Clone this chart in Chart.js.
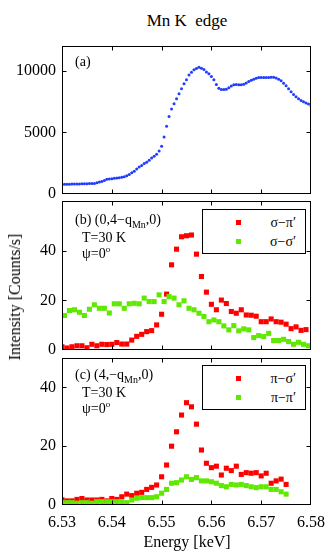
<!DOCTYPE html>
<html>
<head>
<meta charset="utf-8">
<script src="https://cdn.jsdelivr.net/npm/chart.js@4.4.0/dist/chart.umd.min.js"></script>
<style>
  body { margin: 0; width: 332px; height: 556px; position: relative; overflow: hidden; background: #fff;
         font-family: "Liberation Serif", "Times New Roman", serif; color: #000; }
  canvas { position: absolute; left: 0; }
  .t { position: absolute; white-space: nowrap; line-height: 1; font-size: 14px; transform: translateY(-50%); }
  .c { transform: translate(-50%, -50%); }
  sub { font-size: 10px; vertical-align: -4px; line-height: 0; }
  .leg { position: absolute; border: 1px solid #000; background: #fff; box-sizing: border-box; }
  .mk { position: absolute; width: 5px; height: 5px; }
</style>
</head>
<body>
<canvas id="pa" width="332" height="168" style="top:36px"></canvas>
<canvas id="pb" width="332" height="164" style="top:196px"></canvas>
<canvas id="pc" width="332" height="206" style="top:350px"></canvas>

<div class="t c" style="left:187px;top:20px;font-size:17px">Mn K&nbsp;&nbsp;edge</div>
<div class="t c" style="left:187px;top:542px;font-size:16px">Energy [keV]</div>
<div class="t" style="left:15px;top:297px;font-size:16px;transform:translate(-50%,-50%) rotate(-90deg)">Intensity [Counts/s]</div>

<div class="t" style="left:75px;top:62px">(a)</div>

<div class="t" style="left:75px;top:220px">(b) (0,4−q<sub>Mn</sub>,0)</div>
<div class="t" style="left:82px;top:238px">T=30 K</div>
<div class="t" style="left:82px;top:253px">ψ=0<sup style="font-size:9px">o</sup></div>

<div class="t" style="left:75px;top:375px">(c) (4,−q<sub>Mn</sub>,0)</div>
<div class="t" style="left:82px;top:393px">T=30 K</div>
<div class="t" style="left:82px;top:408px">ψ=0<sup style="font-size:9px">o</sup></div>

<div class="leg" style="left:202px;top:209px;width:104px;height:45px">
  <div class="mk" style="left:33px;top:10px;background:#ff0000"></div>
  <div class="t" style="right:9px;top:13px">σ−π′</div>
  <div class="mk" style="left:33px;top:29px;background:#5fe800"></div>
  <div class="t" style="right:9px;top:32px">σ−σ′</div>
</div>
<div class="leg" style="left:202px;top:365px;width:104px;height:45px">
  <div class="mk" style="left:33px;top:10px;background:#ff0000"></div>
  <div class="t" style="right:9px;top:13px">π−σ′</div>
  <div class="mk" style="left:33px;top:29px;background:#5fe800"></div>
  <div class="t" style="right:9px;top:32px">π−π′</div>
</div>

<script>
// x axis (shared)
var xTicks = [6.53, 6.54, 6.55, 6.56, 6.57, 6.58];

// (a) fluorescence, Mn K edge
var energyA = [
  6.5300, 6.5305, 6.5310, 6.5315, 6.5320, 6.5325, 6.5330, 6.5335, 6.5340, 6.5345,
  6.5350, 6.5355, 6.5360, 6.5365, 6.5370, 6.5375, 6.5380, 6.5385, 6.5390, 6.5395,
  6.5400, 6.5405, 6.5410, 6.5415, 6.5420, 6.5425, 6.5430, 6.5435, 6.5440, 6.5445,
  6.5450, 6.5455, 6.5460, 6.5465, 6.5470, 6.5475, 6.5480, 6.5485, 6.5490, 6.5495,
  6.5500, 6.5505, 6.5510, 6.5515, 6.5520, 6.5525, 6.5530, 6.5535, 6.5540, 6.5545,
  6.5550, 6.5555, 6.5560, 6.5565, 6.5570, 6.5575, 6.5580, 6.5585, 6.5590, 6.5595,
  6.5600, 6.5605, 6.5610, 6.5615, 6.5620, 6.5625, 6.5630, 6.5635, 6.5640, 6.5645,
  6.5650, 6.5655, 6.5660, 6.5665, 6.5670, 6.5675, 6.5680, 6.5685, 6.5690, 6.5695,
  6.5700, 6.5705, 6.5710, 6.5715, 6.5720, 6.5725, 6.5730, 6.5735, 6.5740, 6.5745,
  6.5750, 6.5755, 6.5760, 6.5765, 6.5770, 6.5775, 6.5780, 6.5785, 6.5790, 6.5795,
  6.5800
];
var fluoA = [
  780, 790, 800, 800, 810, 810, 820, 820, 830, 830,
  840, 850, 860, 860, 910, 970, 1020, 1100, 1190, 1210,
  1240, 1270, 1290, 1320, 1350, 1400, 1480, 1590, 1720, 1850,
  2020, 2180, 2310, 2480, 2580, 2740, 2910, 3070, 3230, 3480,
  3880, 4620, 5490, 6290, 6890, 7310, 7720, 8120, 8530, 8930,
  9260, 9640, 9870, 10070, 10170, 10280, 10200, 10090, 9900, 9740,
  9520, 9260, 8880, 8580, 8470, 8470, 8500, 8610, 8750, 8850,
  8880, 8850, 8850, 8900, 9010, 9120, 9230, 9310, 9390, 9440,
  9440, 9440, 9440, 9440, 9470, 9470, 9410, 9310, 9180, 8980,
  8770, 8530, 8290, 8070, 7890, 7720, 7590, 7480, 7380, 7290,
  7160
];
var yTicksA = [0, 5000, 10000];

// (b) (0,4-qMn,0)
var energyB = [
  6.530, 6.531, 6.532, 6.533, 6.534, 6.535, 6.536, 6.537, 6.538, 6.539,
  6.540, 6.541, 6.542, 6.543, 6.544, 6.545, 6.546, 6.547, 6.548, 6.549,
  6.550, 6.551, 6.552, 6.553, 6.554, 6.555, 6.556, 6.557, 6.558, 6.559,
  6.560, 6.561, 6.562, 6.563, 6.564, 6.565, 6.566, 6.567, 6.568, 6.569,
  6.570, 6.571, 6.572, 6.573, 6.574, 6.575, 6.576, 6.577, 6.578, 6.579
];
var sigmaPi = [
  1.3, 0.8, 1.3, 1.7, 1.7, 0.9, 2.3, 1.7, 2.3, 2.2,
  2.3, 3.0, 2.4, 2.4, 4.0, 5.5, 6.3, 7.4, 7.8, 10.1,
  14.4, 22.5, 34.3, 40.6, 45.6, 46.0, 46.3, 38.6, 29.6, 23.3,
  18.4, 16.2, 20.1, 18.7, 15.5, 14.8, 16.2, 14.1, 14.0, 13.6,
  11.4, 11.4, 12.5, 11.4, 11.2, 10.4, 8.6, 9.3, 7.9, 8.2
];
var energyB2 = [
  6.5305, 6.5315, 6.5325, 6.5335, 6.5345, 6.5355, 6.5365, 6.5375, 6.5385, 6.5395,
  6.5405, 6.5415, 6.5425, 6.5435, 6.5445, 6.5455, 6.5465, 6.5475, 6.5485, 6.5495,
  6.5505, 6.5515, 6.5525, 6.5535, 6.5545, 6.5555, 6.5565, 6.5575, 6.5585, 6.5595,
  6.5605, 6.5615, 6.5625, 6.5635, 6.5645, 6.5655, 6.5665, 6.5675, 6.5685, 6.5695,
  6.5705, 6.5715, 6.5725, 6.5735, 6.5745, 6.5755, 6.5765, 6.5775, 6.5785, 6.5795
];
var sigmaSigma = [
  13.9, 15.9, 16.2, 15.2, 13.9, 16.4, 18.2, 16.8, 16.8, 14.9,
  18.6, 18.6, 16.8, 18.6, 18.8, 18.6, 20.9, 19.5, 19.5, 22.2,
  19.5, 21.5, 20.9, 18.2, 19.8, 16.8, 16.2, 14.8, 13.5, 11.4,
  12.1, 11.4, 9.7, 8.1, 9.8, 7.7, 8.5, 8.1, 5.0, 5.8,
  5.4, 6.7, 3.8, 3.8, 4.3, 3.4, 2.3, 3.1, 2.3, 1.7
];
var yTicksB = [0, 20, 40];

// (c) (4,-qMn,0)
var energyC = [
  6.530, 6.531, 6.532, 6.533, 6.534, 6.535, 6.536, 6.537, 6.538, 6.539,
  6.540, 6.541, 6.542, 6.543, 6.544, 6.545, 6.546, 6.547, 6.548, 6.549,
  6.550, 6.551, 6.552, 6.553, 6.554, 6.555, 6.556, 6.557, 6.558, 6.559,
  6.560, 6.561, 6.562, 6.563, 6.564, 6.565, 6.566, 6.567, 6.568, 6.569,
  6.570, 6.571, 6.572, 6.573, 6.574, 6.575
];
var piSigma = [
  1.8, 1.4, 1.4, 1.9, 2.2, 1.7, 1.7, 1.7, 1.9, 1.4,
  2.2, 1.9, 2.8, 3.7, 3.2, 4.0, 4.3, 5.3, 6.0, 6.8,
  9.6, 13.6, 20.0, 24.9, 30.6, 34.8, 33.4, 27.5, 18.7, 14.2,
  12.7, 13.2, 10.2, 12.5, 11.7, 13.2, 10.4, 11.0, 10.8, 11.0,
  9.9, 10.8, 7.4, 8.2, 8.8, 7.0
];
var piPi = [
  0.8, 0.8, 0.8, 0.6, 0.8, 0.8, 0.6, 1.1, 1.1, 1.1,
  1.1, 1.1, 1.1, 0.8, 1.7, 2.3, 2.5, 2.5, 2.5, 2.8,
  4.0, 5.3, 7.4, 7.6, 8.5, 9.6, 8.7, 9.3, 8.2, 8.2,
  7.9, 7.4, 6.6, 6.2, 7.0, 6.8, 7.0, 6.6, 6.2, 5.9,
  6.2, 6.2, 5.3, 5.3, 4.5, 3.7
];
var yTicksC = [0, 20, 40];

var RED = '#ff0000', GREEN = '#5fe800', BLUE = '#1f3cff';
var tickFont = { family: '"Liberation Serif", "Times New Roman", serif', size: 16 };

function pts(xs, ys) {
  return xs.map(function(x, i) { return { x: x, y: ys[i] }; });
}

// box around the axes with inward tick marks on all four sides
var frame = {
  id: 'frame',
  afterDatasetsDraw: function(chart) {
    var ctx = chart.ctx, a = chart.chartArea, x = chart.scales.x, y = chart.scales.y;
    var L = Math.round(a.left) + 0.5, R = Math.round(a.right) - 0.5;
    var T = Math.round(a.top) + 0.5, B = Math.round(a.bottom) - 0.5;
    ctx.save();
    ctx.strokeStyle = '#000';
    ctx.lineWidth = 1;
    ctx.strokeRect(L, T, R - L, B - T);
    ctx.beginPath();
    x.ticks.forEach(function(t) {
      var px = Math.round(x.getPixelForValue(t.value)) + 0.5;
      if (px <= L + 1 || px >= R - 1) return;
      ctx.moveTo(px, B); ctx.lineTo(px, B - 4);
      ctx.moveTo(px, T); ctx.lineTo(px, T + 4);
    });
    y.ticks.forEach(function(t) {
      var py = Math.round(y.getPixelForValue(t.value)) + 0.5;
      if (py <= T + 1 || py >= B - 1) return;
      ctx.moveTo(L, py); ctx.lineTo(L + 4, py);
      ctx.moveTo(R, py); ctx.lineTo(R - 4, py);
    });
    ctx.stroke();
    ctx.restore();
  }
};

function panel(id, datasets, yMax, yTicks, showX, padTop, xHeight) {
  return new Chart(document.getElementById(id), {
    type: 'scatter',
    data: { datasets: datasets },
    options: {
      responsive: false,
      animation: false,
      layout: { padding: { left: 0, right: 21, top: padTop, bottom: 0 } },
      plugins: { legend: { display: false }, tooltip: { enabled: false } },
      scales: {
        x: {
          type: 'linear', min: 6.53, max: 6.58,
          afterBuildTicks: function(s) { s.ticks = xTicks.map(function(v) { return { value: v }; }); },
          afterFit: function(s) { s.height = xHeight; s.paddingLeft = 0; s.paddingRight = 0; },
          grid: { display: false, drawTicks: false },
          border: { display: false },
          ticks: { display: showX, padding: 8, color: '#000', font: tickFont, maxRotation: 0,
                   callback: function(v) { return Number(v).toFixed(2); } }
        },
        y: {
          min: 0, max: yMax,
          afterBuildTicks: function(s) { s.ticks = yTicks.map(function(v) { return { value: v }; }); },
          afterFit: function(s) { s.width = 62; s.paddingTop = 0; s.paddingBottom = 0; },
          grid: { display: false, drawTicks: false },
          border: { display: false },
          ticks: { padding: 6, color: '#000', font: tickFont,
                   callback: function(v) { return String(v); } }
        }
      }
    },
    plugins: [frame]
  });
}

function squares(data, color) {
  return { data: data, showLine: false, pointStyle: 'rect', pointRadius: 3.6,
           pointBorderWidth: 0, backgroundColor: color, borderColor: color };
}

panel('pa', [
  { data: pts(energyA, fluoA), showLine: false, pointRadius: 1.5, pointBorderWidth: 0,
    backgroundColor: BLUE, borderColor: BLUE }
], 12000, yTicksA, false, 10, 10);

panel('pb', [
  squares(pts(energyB2, sigmaSigma), GREEN),
  squares(pts(energyB, sigmaPi), RED)
], 60, yTicksB, false, 5, 10);

panel('pc', [
  squares(pts(energyC, piPi), GREEN),
  squares(pts(energyC, piSigma), RED)
], 50, yTicksC, true, 8, 51);
</script>
</body>
</html>
